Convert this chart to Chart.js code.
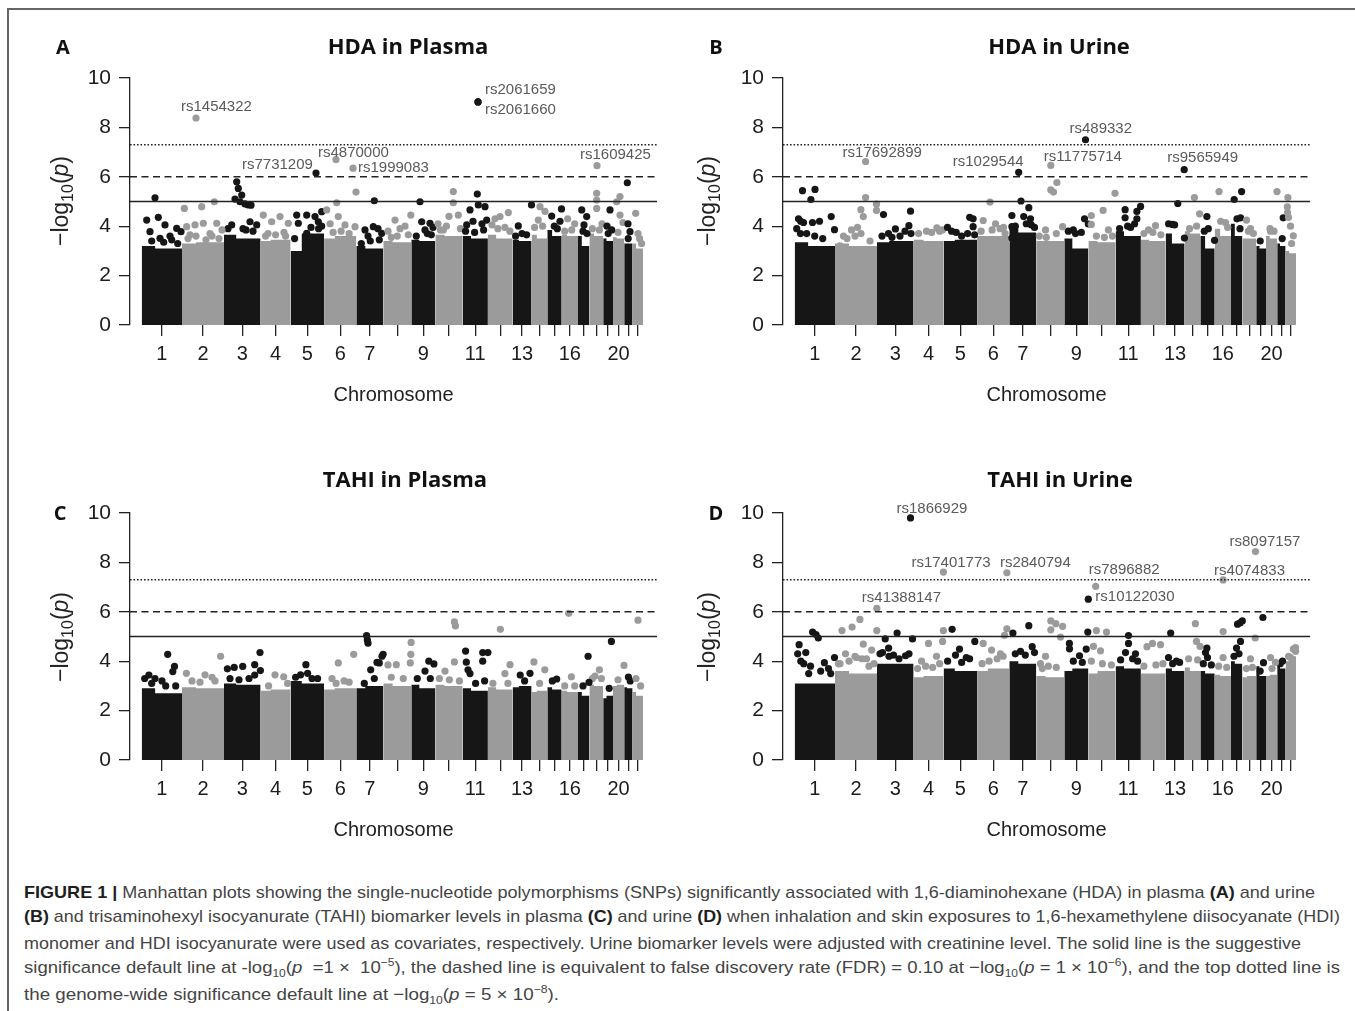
<!DOCTYPE html>
<html>
<head>
<meta charset="utf-8">
<title>FIGURE 1 - Manhattan plots</title>
<script src="https://cdn.jsdelivr.net/npm/chart.js@4.4.1/dist/chart.umd.min.js"></script>
<style>
    body { margin: 0; background: #fff; }
    #page { position: relative; width: 1355px; height: 1011px; overflow: hidden; font-family: "Liberation Sans", Arial, sans-serif; }
    #frame { position: absolute; left: 7px; top: 8px; width: 1400px; height: 1100px; border-left: 2px solid #666; border-top: 2px solid #666; }
    canvas { position: absolute; }
    .ptitle { position: absolute; transform: translate(-50%, -50%); font-family: "Open Sans", Lato, sans-serif; font-weight: bold; font-size: 22px; color: #111; white-space: nowrap; }
    .pletter { position: absolute; transform: translate(-50%, -50%); font-family: "Open Sans", Lato, sans-serif; font-weight: bold; font-size: 20px; color: #111; }
    .ylab { position: absolute; transform: translate(-50%, -50%) rotate(-90deg); font-size: 23px; color: #222; white-space: nowrap; }
    .ylab sub { font-size: 16px; line-height: 0; }
    .cap { position: absolute; left: 24px; height: 22px; line-height: 22px; font-family: "Liberation Sans Narrow", "Liberation Sans", sans-serif; font-size: 17px; color: #444; white-space: nowrap; transform-origin: 0 50%; }
    .cap b { color: #1e1e1e; }
    .cap sub, .cap sup { font-size: 11px; line-height: 0; }
</style>
</head>
<body>
<div id="page">
    <div id="frame"></div>

    <canvas id="chartA" width="680" height="430" style="left:0px; top:0px;"></canvas>
    <canvas id="chartB" width="680" height="430" style="left:653px; top:0px;"></canvas>
    <canvas id="chartC" width="680" height="430" style="left:0px; top:435px;"></canvas>
    <canvas id="chartD" width="680" height="430" style="left:653px; top:435px;"></canvas>

    <div class="pletter" style="left:63px; top:46px;">A</div>
    <div class="ptitle" style="left:408px; top:45px;">HDA in Plasma</div>
    <div class="pletter" style="left:716px; top:46px;">B</div>
    <div class="ptitle" style="left:1059px; top:45px;">HDA in Urine</div>
    <div class="pletter" style="left:60px; top:512px;">C</div>
    <div class="ptitle" style="left:405px; top:478px;">TAHI in Plasma</div>
    <div class="pletter" style="left:716px; top:512px;">D</div>
    <div class="ptitle" style="left:1060px; top:478px;">TAHI in Urine</div>

    <div class="ylab" style="left:60px; top:201px;">&minus;log<sub>10</sub>(<i>p</i>)</div>
    <div class="ylab" style="left:707px; top:201px;">&minus;log<sub>10</sub>(<i>p</i>)</div>
    <div class="ylab" style="left:60px; top:637px;">&minus;log<sub>10</sub>(<i>p</i>)</div>
    <div class="ylab" style="left:707px; top:637px;">&minus;log<sub>10</sub>(<i>p</i>)</div>

    <div class="cap" data-w="1291" style="top:882px;"><b>FIGURE 1 |</b> Manhattan plots showing the single-nucleotide polymorphisms (SNPs) significantly associated with 1,6-diaminohexane (HDA) in plasma <b>(A)</b> and urine</div>
    <div class="cap" data-w="1316" style="top:906px;"><b>(B)</b> and trisaminohexyl isocyanurate (TAHI) biomarker levels in plasma <b>(C)</b> and urine <b>(D)</b> when inhalation and skin exposures to 1,6-hexamethylene diisocyanate (HDI)</div>
    <div class="cap" data-w="1277" style="top:933px;">monomer and HDI isocyanurate were used as covariates, respectively. Urine biomarker levels were adjusted with creatinine level. The solid line is the suggestive</div>
    <div class="cap" data-w="1316" style="top:957px;">significance default line at -log<sub>10</sub>(<i>p</i> &nbsp;=1 &times; &nbsp;10<sup>&minus;5</sup>), the dashed line is equivalent to false discovery rate (FDR) = 0.10 at &minus;log<sub>10</sub>(<i>p</i> = 1 &times; 10<sup>&minus;6</sup>), and the top dotted line is</div>
    <div class="cap" data-w="535" style="top:984px;">the genome-wide significance default line at &minus;log<sub>10</sub>(<i>p</i> = 5 &times; 10<sup>&minus;8</sup>).</div>
</div>

<script>
    // ---- genome axis: widths of chromosomes 1..22 along the x axis
    const chromWidth = [40.3, 42, 36.6, 30, 33.5, 32.2, 27, 28, 24.1, 27.2, 25.3, 24.7, 19, 15.7, 14.4, 16.3, 11.4, 13.8, 9.8, 11.2, 8.4, 10.5];
    const chromLabelShown = [1, 2, 3, 4, 5, 6, 7, 9, 11, 13, 16, 20];
    const yTicks = [0, 2, 4, 6, 8, 10];

    // threshold lines, -log10(p)
    const suggestiveLine = 5;      // p = 1e-5
    const fdrLine = 6;             // p = 1e-6
    const genomeWideLine = 7.3;    // p = 5e-8

    // ---- dense SNP cloud: top of the solid block, 3 stretches per chromosome
    const cloudHdaPlasma = [[3.2,3.2,3.1],[3.2,3.3,3.35],[3.7,3.65,3.5],[3.45,3.4,3.45],[3.2,3.0,3.7],[3.3,3.5,3.6],[3.1,3.2,3.1],[3.3,3.4,3.35],[3.0,3.45,3.4],[3.5,3.65,3.6],[3.5,3.6,3.5],[3.6,3.65,3.5],[3.4,3.45,3.4],[3.6,3.65,3.5],[3.5,3.85,3.6],[3.6,3.65,3.6],[3.1,3.6,3.2],[3.7,3.7,3.6],[3.5,3.5,3.4],[3.6,3.55,3.5],[3.3,3.3,3.3],[3.4,3.3,3.1]];
    const cloudHdaUrine = [[3.4,3.35,3.2],[2.9,3.3,3.2],[3.3,3.35,3.4],[3.4,3.45,3.4],[3.6,3.4,3.45],[3.5,3.6,3.6],[3.7,3.9,3.75],[3.3,3.4,3.4],[3.55,3.5,3.1],[3.3,3.4,3.35],[3.3,3.8,3.6],[3.4,3.45,3.4],[3.9,3.7,3.3],[3.7,3.8,3.7],[3.1,3.6,3.1],[3.7,3.9,3.6],[3.5,4.1,3.6],[3.6,3.5,3.5],[3.1,3.2,3.1],[3.6,3.6,3.5],[3.2,3.3,3.2],[3.3,3.0,2.9]];
    const cloudTahiPlasma = [[3.3,2.9,2.7],[2.9,2.95,2.9],[3.0,3.1,3.05],[2.85,2.8,2.85],[3.1,3.2,3.1],[2.9,2.85,2.9],[2.55,2.9,3.0],[3.05,3.1,3.0],[3.0,3.05,2.9],[3.0,3.05,3.0],[2.75,2.9,2.8],[2.9,2.95,2.85],[2.9,2.95,3.0],[2.8,2.75,2.8],[2.9,2.95,2.85],[2.75,2.8,2.75],[2.7,2.75,2.6],[3.0,3.05,3.0],[2.5,2.5,2.6],[3.0,3.0,3.05],[2.9,2.95,2.9],[2.8,2.75,2.6]];
    const cloudTahiUrine = [[3.05,3.1,3.1],[3.4,3.6,3.5],[3.8,3.9,3.9],[3.3,3.35,3.4],[3.6,3.7,3.6],[3.5,3.6,3.7],[3.9,4.0,3.9],[3.4,3.4,3.35],[3.7,3.6,3.7],[3.6,3.5,3.6],[3.75,3.8,3.7],[3.45,3.5,3.5],[3.6,3.7,3.6],[3.7,3.75,3.6],[3.7,3.6,3.5],[3.5,3.45,3.4],[3.8,4.0,3.9],[3.3,3.35,3.4],[3.3,3.8,3.4],[3.35,3.4,3.45],[3.6,3.9,3.7],[3.8,4.0,4.2]];

    // ---- ragged edge of the cloud: SNPs just above the solid block [chromosome, position, -log10(p)]
    const fringeHdaPlasma = [
        [1,10,3.4],[1,22,3.35],[1,30,3.45],[1,36,3.3],[2,6,3.5],[2,14,3.6],[2,24,3.45],[2,30,3.6],[2,37,3.5],
        [3,4,3.9],[3,22,3.85],[3,29,3.8],[4,5,3.6],[4,15,3.65],[4,25,3.6],[5,22,3.5],[5,28,3.9],[5,31,4.0],[5,4,3.5],
        [6,9,3.75],[6,17,3.8],[6,25,3.7],[7,5,3.3],[7,14,3.4],[7,23,3.45],[8,8,3.55],[8,14,3.6],[8,25,3.65],
        [9,5,3.6],[9,16,3.7],[9,20,3.65],[10,5,3.85],[10,11,4.0],[10,25,3.9],[11,3,3.8],[11,12,3.75],[11,21,3.85],
        [12,10,3.9],[12,17,3.95],[12,22,3.8],[13,3,3.6],[13,14,3.65],[14,3,3.95],[14,11,4.0],[15,7,4.0],[15,10,3.9],
        [16,3,3.8],[16,10,3.85],[17,5,3.8],[17,9,3.7],[18,3,3.9],[18,10,3.85],[19,5,3.7],[20,5,3.75],[21,4,3.5],[22,7,3.5],[22,9,3.3]
    ];
    const fringeHdaUrine = [
        [1,2,3.9],[1,6,4.2],[1,12,3.7],[1,20,3.6],[1,28,3.5],[2,5,3.2],[2,12,3.5],[2,20,3.6],[2,26,3.7],[2,35,3.4],
        [3,5,3.6],[3,15,3.55],[3,23,3.6],[3,28,3.8],[3,34,3.7],[4,5,3.7],[4,18,3.75],[4,26,3.8],
        [5,8,3.8],[5,18,3.6],[5,24,3.7],[5,31,3.65],[6,4,3.8],[6,15,3.85],[6,23,3.9],[6,28,3.7],
        [7,6,4.0],[7,17,4.1],[7,22,4.05],[8,3,3.6],[8,10,3.55],[8,20,3.7],[9,4,3.8],[9,9,3.85],[9,17,3.75],
        [10,8,3.6],[10,16,3.55],[10,24,3.6],[11,4,3.9],[11,12,4.0],[11,19,4.1],[12,3,3.7],[12,12,3.75],[12,20,3.65],
        [13,3,4.1],[13,9,4.05],[14,5,3.9],[14,12,4.0],[15,4,3.8],[15,8,3.9],[16,6,4.2],[16,13,3.95],
        [17,6,4.3],[17,9,3.9],[18,6,3.8],[18,11,3.7],[19,4,3.4],[20,4,3.9],[20,8,3.8],[21,5,3.5],[22,6,3.3]
    ];
    const fringeTahiPlasma = [
        [1,3,3.3],[1,10,3.1],[1,24,3.0],[1,34,3.0],[2,10,3.2],[2,18,3.15],[2,33,3.2],[3,6,3.3],[3,15,3.25],[3,25,3.3],
        [4,8,3.0],[4,27,3.1],[5,5,3.35],[5,10,3.45],[5,27,3.3],[6,12,3.1],[6,20,3.2],[6,25,3.15],[7,8,3.1],[7,18,3.3],
        [8,8,3.35],[8,20,3.3],[9,6,3.3],[9,19,3.3],[10,4,3.3],[10,14,3.25],[10,24,3.2],[11,13,3.1],[11,22,3.2],
        [12,5,3.1],[12,20,3.1],[13,12,3.2],[14,8,3.1],[15,5,3.2],[16,3,3.0],[16,13,3.0],[17,5,3.0],
        [18,3,3.3],[18,12,3.3],[19,6,2.9],[20,5,3.25],[21,6,3.2],[22,8,3.0]
    ];
    const fringeTahiUrine = [
        [1,3,4.3],[1,9,3.9],[1,14,3.5],[1,26,3.6],[1,36,3.5],[2,5,3.9],[2,14,4.0],[2,20,4.2],[2,27,4.1],[2,34,3.8],[2,39,3.9],
        [3,3,4.3],[3,12,4.2],[3,22,4.1],[3,32,4.3],[4,4,3.7],[4,12,3.8],[4,19,3.75],[4,26,3.9],
        [5,4,4.0],[5,18,3.95],[5,26,4.1],[6,5,3.9],[6,12,4.0],[6,20,4.1],[6,26,4.2],[7,6,4.3],[7,16,4.25],
        [8,6,3.7],[8,12,3.8],[8,20,3.75],[9,9,4.0],[9,18,3.95],[10,3,4.0],[10,14,3.9],[10,23,3.85],
        [11,5,4.05],[11,17,4.1],[11,22,4.0],[12,3,3.8],[12,15,3.85],[12,22,3.9],[13,7,3.9],[13,14,3.95],
        [14,4,4.1],[14,13,4.05],[15,3,3.9],[15,11,3.85],[16,4,3.8],[16,12,3.75],[17,3,4.2],[17,8,4.3],
        [18,4,3.7],[18,10,3.75],[19,4,3.6],[20,6,3.7],[21,3,3.9],[22,3,4.2],[22,10,4.4]
    ];

    // ---- single SNPs well above the cloud: [chromosome, position inside chromosome, -log10(p)]
    const snpsHdaPlasma = [
        [1,13.3,5.15],[1,5,4.25],[1,16.6,4.36],[1,8.3,3.78],[1,23.3,4.05],[1,35,3.91],[1,18.3,3.51],[1,39.3,3.78],[1,28.3,3.6],
        [2,2.3,4.72],[2,19.7,4.79],[2,32.3,4.99],[2,13,4.05],[2,21.3,4.12],[2,34.7,4.12],[2,4.7,3.98],[2,8,3.65],[2,28,3.7],[2,40,3.85],
        [3,12.7,5.8],[3,14.3,5.53],[3,17.7,5.26],[3,11,5.1],[3,16,4.99],[3,21,4.9],[3,24,4.86],[3,27,4.85],[3,7.7,4.05],[3,26,4.18],[3,32.7,4.05],[3,19,3.9],
        [4,2.7,4.45],[4,11.1,4.18],[4,19.4,4.39],[4,27.7,4.12],[4,7.4,3.7],[4,23.4,3.75],
        [5,6.1,4.45],[5,16.1,4.45],[5,24.4,4.39],[5,31.1,4.59],[5,7.7,4.12],[5,16.1,3.71],[5,27.7,4.18],[5,20.4,3.95],
        [6,2.6,4.66],[6,12.6,4.95],[6,14.2,4.39],[6,20.9,4.05],[6,30.9,3.98],[6,31.9,5.38],[6,6,4.1],
        [7,18,5.03],[7,8.7,3.85],[7,17,3.98],[7,25.4,3.71],[7,21.7,3.9],[7,11.7,3.6],
        [8,11.7,4.25],[8,27.5,4.45],[8,16.7,3.9],[8,4.7,3.8],[8,21.7,4.0],
        [9,8.7,4.99],[9,10.4,4.18],[9,18.7,4.12],[9,13.7,3.85],[9,21.7,3.95],
        [10,17.9,5.4],[10,17.9,4.95],[10,7.9,3.85],[10,22.9,4.45],[10,13.6,4.4],[10,2.6,4.1],
        [11,14.7,5.3],[11,7.4,4.66],[11,15.7,4.86],[11,22.4,4.79],[11,4.1,4.05],[11,24.1,4.25],[11,10.4,4.2],[11,19.4,4.1],
        [12,12.1,4.39],[12,20.4,4.55],[12,4.1,4.05],[12,7.1,4.3],
        [13,5.7,4.01],[13,18.9,4.86],[13,9.4,3.7],
        [14,8.4,4.79],[14,6.7,4.25],[14,13.4,4.6],
        [15,4.4,4.41],[15,12.7,4.2],[15,14.2,4.7],
        [16,6,4.3],[16,13,4.1],
        [17,3.7,4.66],[17,8.7,4.39],[17,6,4.05],
        [18,7.3,5.33],[18,7.3,5.06],[18,7.3,4.72],[18,12.6,4.1],
        [19,6.8,4.66],[19,8.5,3.85],[19,3.8,4.0],
        [20,7,5.2],[20,3.7,4.99],[20,7,4.45],[20,10,4.15],
        [21,3.1,5.76],[21,5.8,3.78],[21,3.8,4.1],
        [22,3.1,4.52],[22,5.4,3.7]
    ];
    const snpsHdaUrine = [
        [1,7.8,5.44],[1,20.3,5.49],[1,16.2,5.08],[1,36.5,4.39],[1,39.8,3.86],[1,3.8,4.3],[1,8.8,4.15],[1,17.8,4.15],[1,24.8,4.2],[1,5.8,3.7],
        [2,30.6,5.16],[2,25.9,4.67],[2,28.3,4.39],[2,41.5,4.89],[2,41.5,4.64],[2,22.5,3.95],[2,16.5,3.85],[2,8.5,3.6],
        [3,6.5,4.47],[3,33.5,4.61],[3,18.4,3.89],[3,31.9,4.02],[3,11.5,3.7],
        [4,23.3,3.93],[4,12.9,3.8],[4,28.9,3.85],
        [5,26.1,4.36],[5,29.5,4.3],[5,12.6,3.75],[5,29.5,3.98],[5,3.9,3.95],
        [6,12.9,4.98],[6,6.1,4.23],[6,18.4,4.1],[6,26.4,3.95],
        [7,11.7,5.02],[7,19.5,4.75],[7,2.6,4.43],[7,2.6,3.98],[7,2.6,3.52],[7,14.4,4.39],[7,21.2,4.3],[7,25.2,3.95],
        [8,20.6,5.77],[8,14.5,5.47],[8,17.2,5.38],[8,26.3,3.98],[8,9.2,3.85],
        [9,20.2,4.3],[9,24,4.09],[9,11.2,3.7],
        [10,26.6,5.33],[10,14.7,4.64],[10,2.9,4.43],[10,2.9,4.07],[10,20,3.85],
        [11,9.5,4.67],[11,21.3,4.6],[11,25,4.8],[11,9.5,4.34],[11,21.3,4.3],[11,15,3.95],
        [12,14.6,4.02],[12,7.6,3.85],
        [13,12.2,4.92],[13,6.9,4.07],[13,18.8,3.52],
        [14,9.8,5.16],[14,15,4.5],
        [15,6.6,4.39],[15,14.2,3.43],
        [16,4.3,5.4],[16,10.8,4.15],
        [17,10.6,5.4],[17,3.2,5.08],[17,9.6,4.34],
        [18,8.1,3.9],[18,4.1,4.25],
        [20,11,5.4],[20,4.5,3.8],
        [21,6,4.34],
        [22,2.3,5.16],[22,1.7,4.78],[22,1.9,4.55],[22,2.9,4.36],[22,7.7,3.61],[22,4.9,4.0]
    ];
    const snpsTahiPlasma = [
        [1,26,4.28],[1,32.8,3.79],[1,31.1,3.58],[1,7.2,3.44],[1,13.3,3.3],[1,20.3,3.2],
        [2,4.4,3.51],[2,38.6,4.2],[2,23,3.45],[2,30,3.35],
        [3,3.4,3.69],[3,10.2,3.75],[3,18.7,3.79],[3,30.7,3.86],[3,36,4.35],[3,36.4,3.62],[3,30.7,3.44],
        [4,23.1,3.37],[4,14.4,3.45],
        [5,15.3,3.86],[5,17,3.51],[5,21.4,3.3],
        [6,14.2,3.93],[6,29.6,4.28],[6,7.9,3.3],
        [7,10.3,5.04],[7,11,4.86],[7,11.7,4.73],[7,26.8,4.28],[7,23,3.93],[7,14.4,3.65],[7,25.7,4.2],[7,20.7,3.95],
        [8,27.8,4.76],[8,27.5,4.28],[8,27,3.93],[8,13,3.86],[8,4.7,3.85],
        [9,17.5,4.0],[9,22.6,3.89],[9,13.7,3.6],
        [10,19,5.59],[10,20,5.43],[10,19,3.97],[10,9.6,3.6],
        [11,3,4.41],[11,3.7,3.96],[11,20.1,4.35],[11,25.3,4.35],[11,20.1,4.0],[11,5.4,3.65],[11,7.4,3.5],
        [12,12.5,5.29],[12,22.1,3.86],[12,17,3.5],
        [13,7.6,3.44],[13,17.4,3.51],
        [14,2.3,3.97],[14,13.2,3.65],
        [15,9.4,3.28],
        [16,7,5.94],[16,9.7,3.37],
        [17,10.1,4.2],[17,11,3.14],
        [18,10,3.65],[18,5.6,3.4],
        [19,8.2,4.8],
        [20,11,3.83],
        [21,4.2,3.36],
        [22,5.4,5.66],[22,3.4,3.3]
    ];
    const snpsTahiUrine = [
        [1,17.9,5.18],[1,21.3,5.08],[1,23.6,4.94],[1,4.4,4.67],[1,11.1,4.35],[1,6.1,4.0],[1,29.7,3.94],[1,39.8,4.15],[1,15.8,3.8],[1,33.8,3.7],
        [2,7,5.24],[2,17.1,5.38],[2,24.9,5.69],[2,36.7,4.45],[2,28.3,4.69],[2,21.5,4.15],[2,41.8,5.24],[2,10.5,4.3],[2,31.5,4.1],[2,3.5,3.9],
        [3,8.2,4.9],[3,20.1,5.14],[3,11.6,4.53],[3,5.5,4.35],[3,28.5,4.22],[3,35.5,4.9],[3,16.5,4.25],
        [4,14.9,4.72],[4,29.8,5.24],[4,29,4.8],[4,7.9,4.0],[4,22.9,4.2],
        [5,8.5,5.29],[5,31.2,4.8],[5,15.9,4.49],[5,22.7,4.15],[5,11.9,4.25],
        [6,6.1,4.72],[6,14.5,4.45],[6,29.8,5.31],[6,23.4,4.3],[6,27.4,5.05],
        [7,3.6,5.14],[7,19.5,5.44],[7,22.9,4.59],[7,25.2,4.35],[7,11.2,4.4],
        [8,14.5,5.63],[8,19.5,5.52],[8,26.3,5.41],[8,14.5,5.27],[8,24.2,4.98],[8,9.2,4.2],[8,4.2,3.9],
        [9,5.1,4.72],[9,5.2,4.5],[9,15.2,4.22],[9,21.9,4.49],[9,23.5,5.18],
        [10,8,5.24],[10,18.1,5.18],[10,12.1,4.42],[10,5.1,4.6],
        [11,12.9,5.04],[11,12.9,4.72],[11,9.9,4.35],[11,19.9,4.3],
        [12,6.1,4.59],[12,11.6,4.72],[12,19.6,4.67],
        [13,5.1,5.14],[13,2.9,4.15],[13,10.9,4.0],
        [14,10.8,5.52],[14,11.9,4.8],[14,15.5,4.6],
        [15,6.6,4.53],[15,5.2,4.35],[15,7.2,4.15],
        [16,8.4,5.2],[16,8.4,4.15],
        [17,9,5.55],[17,11.3,5.63],[17,9.5,4.8],[17,5.5,4.53],[17,6.5,5.5],
        [18,12.8,4.94],[18,8.1,4.1],
        [19,6.7,5.77],[19,7.3,3.94],
        [20,4.5,4.15],[20,9.5,3.95],
        [21,5.3,4.0],
        [22,7.7,4.49],[22,4.9,4.15],[22,9.9,4.55]
    ];

    // ---- annotated top hits: [chromosome, position, -log10(p), rs id]
    const hitsHdaPlasma = [[2,14,8.38,'rs1454322'],[11,15.4,9.03,'rs2061659'],[11,15.4,9.03,'rs2061660'],[5,25.4,6.15,'rs7731209'],[6,11.9,6.7,'rs4870000'],[6,28.9,6.35,'rs1999083'],[18,7.6,6.45,'rs1609425']];
    const hitsHdaUrine = [[2,30.6,6.62,'rs17692899'],[7,9.4,6.18,'rs1029544'],[8,14.5,6.46,'rs11775714'],[9,21.2,7.5,'rs489332'],[13,18.6,6.29,'rs9565949']];
    const hitsTahiPlasma = [];
    const hitsTahiUrine = [[3,33.5,9.8,'rs1866929'],[4,29.8,7.61,'rs17401773'],[6,29.8,7.58,'rs2840794'],[2,41.8,6.14,'rs41388147'],[10,7.3,7.03,'rs7896882'],[9,24,6.51,'rs10122030'],[16,8.4,7.29,'rs4074833'],[18,13.1,8.44,'rs8097157']];

    // where each rs label sits relative to its point (px: left edge, vertical centre)
    const labelNudge = {
        rs1454322: [-15, -11], rs2061659: [7, -12], rs2061660: [7, 8], rs7731209: [-74, -8],
        rs4870000: [-18, -7], rs1999083: [5, 0], rs1609425: [-17, -11],
        rs17692899: [-23, -9], rs1029544: [-66, -10], rs11775714: [-7, -9], rs489332: [-16, -11], rs9565949: [-17, -12],
        rs1866929: [-14, -9], rs17401773: [-32, -9], rs2840794: [-7, -10], rs41388147: [-15, -10],
        rs7896882: [-7, -16], rs10122030: [7, -2], rs4074833: [-9, -9], rs8097157: [-26, -10]
    };

    const BLACK = '#161616';
    const GREY = '#9b9b9b';
    const TEXT = '#1c1c1c';

    var chromStart = [];
    var acc = 0;
    chromWidth.forEach(function (w) { chromStart.push(acc); acc += w; });
    const genomeEnd = acc;
    const chromCenter = chromWidth.map(function (w, i) { return chromStart[i] + w / 2; });
    const xMin = -11.7, xMax = genomeEnd + 13.9;

    function genomePos(chrom, pos) { return chromStart[chrom - 1] + pos; }
    function chromColor(chrom) { return chrom % 2 === 1 ? BLACK : GREY; }

    function labelPlugin(hits) {
        return {
            id: 'hitLabels',
            afterDatasetsDraw: function (chart) {
                var ctx = chart.ctx, xs = chart.scales.x, ys = chart.scales.y;
                ctx.save();
                ctx.font = '15px "Liberation Sans", Arial, sans-serif';
                ctx.fillStyle = '#5a5a5a';
                ctx.textBaseline = 'middle';
                ctx.textAlign = 'left';
                hits.forEach(function (h) {
                    var n = labelNudge[h[3]] || [6, -10];
                    var px = xs.getPixelForValue(genomePos(h[0], h[1]));
                    var py = ys.getPixelForValue(h[2]);
                    ctx.fillText(h[3], px + n[0], py + n[1]);
                });
                ctx.restore();
            }
        };
    }

    function makeManhattan(id, cloud, fringe, snps, hits) {
        var datasets = [];

        // threshold lines on top
        [[genomeWideLine, [1.6, 1.9]], [fdrLine, [7, 4.5]], [suggestiveLine, []]].forEach(function (t) {
            datasets.push({
                type: 'line', data: [{x: xMin, y: t[0]}, {x: xMax, y: t[0]}],
                borderColor: '#222', borderWidth: 1.6, borderDash: t[1], pointRadius: 0, fill: false
            });
        });

        // labelled hits and the loose SNPs
        var pts = fringe.concat(snps, hits.map(function (h) { return [h[0], h[1], h[2]]; }));
        datasets.push({
            type: 'scatter',
            data: pts.map(function (p) { return {x: genomePos(p[0], p[1]), y: p[2]}; }),
            pointRadius: 3.6, pointBorderWidth: 0,
            pointBackgroundColor: pts.map(function (p) { return chromColor(p[0]); })
        });

        // the dense cloud of each chromosome as a filled step outline
        cloud.forEach(function (h, i) {
            var s = chromStart[i], w = chromWidth[i];
            datasets.push({
                type: 'line', stepped: 'after', pointRadius: 0, borderWidth: 0,
                backgroundColor: chromColor(i + 1), borderColor: chromColor(i + 1), fill: 'origin',
                data: [{x: s, y: h[0]}, {x: s + w / 3, y: h[1]}, {x: s + 2 * w / 3, y: h[2]}, {x: s + w, y: h[2]}]
            });
        });

        return new Chart(document.getElementById(id), {
            type: 'line',
            data: {datasets: datasets},
            plugins: [labelPlugin(hits)],
            options: {
                responsive: false, animation: false, events: [],
                layout: {padding: {left: 0, top: 78, right: 23, bottom: 15}},
                plugins: {legend: {display: false}, tooltip: {enabled: false}},
                scales: {
                    x: {
                        type: 'linear', min: xMin, max: xMax,
                        afterBuildTicks: function (axis) { axis.ticks = chromCenter.map(function (v) { return {value: v}; }); },
                        afterFit: function (axis) { axis.height = 90; },
                        border: {display: false},
                        grid: {drawOnChartArea: false, tickLength: 11, color: '#222', lineWidth: 1.3},
                        ticks: {
                            autoSkip: false, maxRotation: 0, padding: 6, color: TEXT,
                            font: {size: 20, family: '"Liberation Sans", Arial, sans-serif'},
                            callback: function (v, i) { return chromLabelShown.indexOf(i + 1) >= 0 ? String(i + 1) : ''; }
                        },
                        title: {display: true, text: 'Chromosome', color: '#222', padding: {top: 0, bottom: 8},
                                font: {size: 20, family: '"Liberation Sans", Arial, sans-serif'}}
                    },
                    y: {
                        min: 0, max: 10,
                        afterBuildTicks: function (axis) { axis.ticks = yTicks.map(function (v) { return {value: v}; }); },
                        afterFit: function (axis) { axis.width = 130; },
                        border: {display: true, color: '#222', width: 1.3},
                        grid: {drawOnChartArea: false, tickLength: 11, color: '#222', lineWidth: 1.3},
                        ticks: {padding: 8, color: TEXT, font: {size: 21, family: '"Liberation Sans", Arial, sans-serif'}}
                    }
                }
            }
        });
    }

    makeManhattan('chartA', cloudHdaPlasma, fringeHdaPlasma, snpsHdaPlasma, hitsHdaPlasma);
    makeManhattan('chartB', cloudHdaUrine, fringeHdaUrine, snpsHdaUrine, hitsHdaUrine);
    makeManhattan('chartC', cloudTahiPlasma, fringeTahiPlasma, snpsTahiPlasma, hitsTahiPlasma);
    makeManhattan('chartD', cloudTahiUrine, fringeTahiUrine, snpsTahiUrine, hitsTahiUrine);

    // squeeze each caption line to the width it has in the figure
    document.querySelectorAll('.cap').forEach(function (el) {
        var w = el.getBoundingClientRect().width;
        el.style.transform = 'scaleX(' + (Number(el.dataset.w) / w) + ')';
    });
</script>
</body>
</html>
